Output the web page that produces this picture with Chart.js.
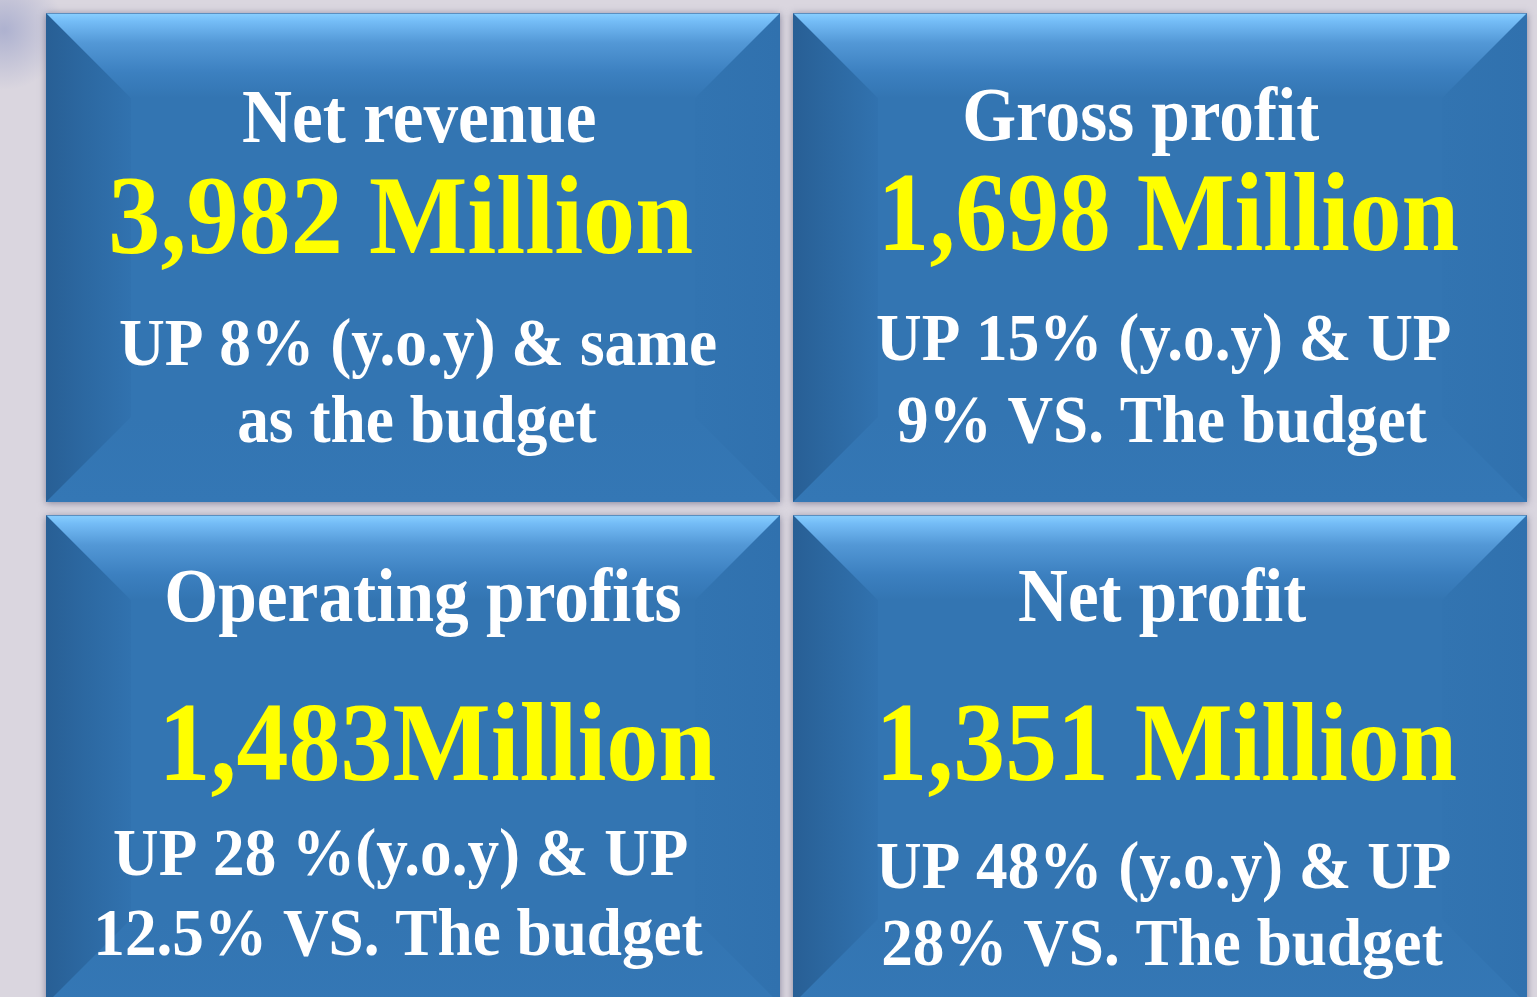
<!DOCTYPE html>
<html>
<head>
<meta charset="utf-8">
<script src="https://cdn.jsdelivr.net/npm/chart.js@4.4.1/dist/chart.umd.min.js"></script>
<style>
html,body{margin:0;padding:0;background:#dad6df;overflow:hidden}
#wrap{position:relative;width:1537px;height:997px}
</style>
</head>
<body>
<div id="wrap"><canvas id="c"></canvas></div>
<script>
// ---- data ----
const columns = ['Left column', 'Right column'];
const rows = ['Top row', 'Bottom row'];
const metricNames = ['Net revenue', 'Gross profit', 'Operating profits', 'Net profit'];
const valuesMillion = [3982, 1698, 1483, 1351];
const valueLabels = ['3,982 Million', '1,698 Million', '1,483Million', '1,351 Million'];
const yoyLines = ['UP 8% (y.o.y) & same', 'UP 15% (y.o.y) & UP', 'UP 28 %(y.o.y) & UP', 'UP 48% (y.o.y) & UP'];
const budgetLines = ['as the budget', '9% VS. The budget', '12.5% VS. The budget', '28% VS. The budget'];

// grid spans of the tile rows (row units on the y scale)
const rowSpans = [[0, 1], [1.0266, 2.0266]];

// ---- layout (positions / sizes / styles) ----
const lineBaselines = [[129, 240, 352, 429], [127, 237, 347, 429], [106, 265, 360, 440], [106, 265, 373, 450]];
const lineInk = [
  [[197, 549], [66, 646], [74, 670], [193, 551]],
  [[172, 526], [92, 665], [84, 657], [105, 634]],
  [[121, 634], [120, 669], [68, 641], [52, 657]],
  [[226, 513], [90, 663], [84, 657], [90, 650]]
];
const lineFontSizes = [76, 112, 68, 68];
const lineColors = ['#ffffff', '#ffff00', '#ffffff', '#ffffff'];
const faceColor = '#3375b2';
const bevelDepth = 85;

function tileRects(chart) {
  const out = [];
  chart.data.datasets.forEach((ds, di) => {
    const meta = chart.getDatasetMeta(di);
    meta.data.forEach((el, i) => {
      const p = el.getProps(['x', 'y', 'base', 'width'], true);
      out.push({
        idx: di * columns.length + i,
        L: p.x - p.width / 2, R: p.x + p.width / 2,
        T: Math.min(p.y, p.base), B: Math.max(p.y, p.base)
      });
    });
  });
  return out;
}

function poly(ctx, pts, fill) {
  ctx.beginPath();
  ctx.moveTo(pts[0][0], pts[0][1]);
  for (let k = 1; k < pts.length; k++) ctx.lineTo(pts[k][0], pts[k][1]);
  ctx.closePath();
  ctx.fillStyle = fill;
  ctx.fill();
}

const bevelPlugin = {
  id: 'bevelTiles',
  beforeDraw(chart) {
    const ctx = chart.ctx;
    ctx.save();
    ctx.fillStyle = '#dad6df';
    ctx.fillRect(0, 0, chart.width, chart.height);
    const g = ctx.createRadialGradient(4, 30, 2, 4, 30, 60);
    g.addColorStop(0, 'rgba(110,125,185,0.4)');
    g.addColorStop(1, 'rgba(110,125,185,0)');
    ctx.fillStyle = g;
    ctx.fillRect(0, 0, 80, 110);
    ctx.restore();
  },
  beforeDatasetsDraw(chart) {
    const ctx = chart.ctx, a = chart.chartArea;
    ctx.save();
    ctx.beginPath();
    ctx.rect(0, 0, chart.width, a.bottom);
    ctx.clip();
    tileRects(chart).forEach(t => {
      ctx.shadowColor = 'rgba(60,60,95,0.55)';
      ctx.shadowBlur = 7;
      ctx.shadowOffsetX = 0;
      ctx.shadowOffsetY = 1;
      ctx.fillStyle = faceColor;
      ctx.fillRect(t.L, t.T, t.R - t.L, t.B - t.T);
    });
    ctx.restore();
  },
  afterDatasetsDraw(chart) {
    const ctx = chart.ctx, a = chart.chartArea;
    const d = bevelDepth;
    ctx.save();
    ctx.beginPath();
    ctx.rect(a.left, a.top, a.right - a.left, a.bottom - a.top);
    ctx.clip();
    tileRects(chart).forEach(t => {
      const {L, R, T, B} = t;
      // bottom bevel
      const gb = ctx.createLinearGradient(0, B, 0, B - d);
      gb.addColorStop(0, '#3477b5');
      gb.addColorStop(1, faceColor);
      poly(ctx, [[L, B], [R, B], [R - d, B - d], [L + d, B - d]], gb);
      // right bevel
      const gr = ctx.createLinearGradient(R, 0, R - d, 0);
      gr.addColorStop(0, '#3071ae');
      gr.addColorStop(1, '#3274b1');
      poly(ctx, [[R, T], [R, B], [R - d, B - d], [R - d, T + d]], gr);
      // left bevel
      const gl = ctx.createLinearGradient(L, 0, L + d, 0);
      gl.addColorStop(0, '#285f95');
      gl.addColorStop(0.45, '#2c68a1');
      gl.addColorStop(1, '#3172af');
      poly(ctx, [[L, T], [L + d, T + d], [L + d, B - d], [L, B]], gl);
      // top bevel
      const gt = ctx.createLinearGradient(0, T, 0, T + d);
      gt.addColorStop(0, '#8ad0ff');
      gt.addColorStop(0.1, '#74bcf6');
      gt.addColorStop(0.35, '#5398d6');
      gt.addColorStop(0.7, '#3c80c0');
      gt.addColorStop(1, faceColor);
      poly(ctx, [[L, T], [R, T], [R - d, T + d], [L + d, T + d]], gt);
      // thin top edge
      ctx.fillStyle = 'rgba(60,100,150,0.6)';
      ctx.fillRect(L, T, R - L, 1);
    });
    ctx.restore();

    // texts
    ctx.save();
    ctx.textAlign = 'left';
    ctx.textBaseline = 'alphabetic';
    tileRects(chart).forEach(t => {
      const i = t.idx;
      const lines = [metricNames[i], valueLabels[i], yoyLines[i], budgetLines[i]];
      lines.forEach((txt, k) => {
        ctx.font = 'bold ' + lineFontSizes[k] + 'px "Liberation Serif", "Times New Roman", serif';
        const m = ctx.measureText(txt);
        const inkW = m.actualBoundingBoxLeft + m.actualBoundingBoxRight;
        const [l, r] = lineInk[i][k];
        const sx = (r - l) / inkW;
        ctx.save();
        ctx.translate(t.L + l + sx * m.actualBoundingBoxLeft, t.T + lineBaselines[i][k]);
        ctx.scale(sx, 1);
        ctx.fillStyle = lineColors[k];
        ctx.fillText(txt, 0, 0);
        ctx.restore();
      });
    });
    ctx.restore();
  }
};

const yMin = -13 / 489;
const yMax = yMin + 997 / 489;

new Chart(document.getElementById('c'), {
  type: 'bar',
  data: {
    labels: columns,
    datasets: rows.map((r, ri) => ({
      label: r,
      data: columns.map(() => rowSpans[ri]),
      backgroundColor: faceColor,
      borderWidth: 0,
      borderSkipped: false,
      grouped: false,
      categoryPercentage: 1,
      barPercentage: 734 / 747
    }))
  },
  options: {
    responsive: true,
    maintainAspectRatio: false,
    animation: false,
    layout: { padding: { left: 39.5, right: 3.5, top: 0, bottom: 0 } },
    plugins: { legend: { display: false }, tooltip: { enabled: false }, title: { display: false } },
    scales: {
      x: { display: false, offset: true, grid: { display: false } },
      y: { display: false, reverse: true, min: yMin, max: yMax, grid: { display: false } }
    }
  },
  plugins: [bevelPlugin]
});
</script>
</body>
</html>
